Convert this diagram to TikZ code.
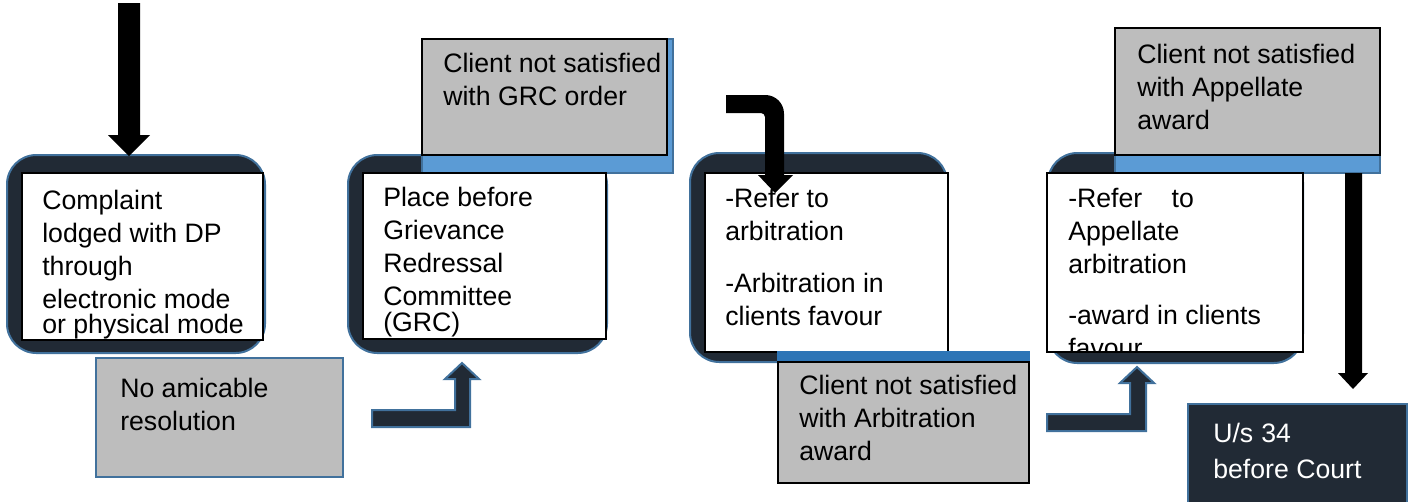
\documentclass[tikz,border=0pt]{standalone}
\usepackage{fontspec}
\setmainfont{Liberation Sans}
\usetikzlibrary{fit}
\definecolor{darkfill}{HTML}{212A35}
\definecolor{edgeblue}{HTML}{41719C}
\definecolor{bandlight}{HTML}{5B9BD5}
\definecolor{banddark}{HTML}{2E75B6}
\definecolor{boxgray}{HTML}{BDBDBD}
\tikzset{
  darkround/.style={fill=darkfill, draw=edgeblue, line width=1.5pt, rounded corners=22pt, inner sep=0pt},
  whitebox/.style={fill=white, draw=black, line width=0.8pt, inner sep=0pt},
  graybox/.style={fill=boxgray, draw=black, line width=0.8pt, inner sep=0pt},
  grayblue/.style={fill=boxgray, draw=edgeblue, line width=1.5pt, inner sep=0pt},
  bandlt/.style={fill=bandlight, draw=edgeblue, line width=1.2pt, inner sep=0pt},
  banddk/.style={fill=banddark, draw=banddark, line width=0.8pt, inner sep=0pt},
  courtbox/.style={fill=darkfill, draw=edgeblue, line width=2pt, inner sep=0pt},
  txt/.style={anchor=base west, align=left, inner sep=0pt, font=\fontsize{20}{24.75}\selectfont},
  blackarrow/.style={fill=black},
  darkarrow/.style={fill=darkfill, draw=edgeblue, line width=1.5pt},
}
\begin{document}
\begin{tikzpicture}[x=0.75pt, y=-0.75pt]
\useasboundingbox (0,0) rectangle (1414,501);
% ---- stage 1
\coordinate (r1a) at (7,155); \coordinate (r1b) at (265,353);
\node[darkround, fit=(r1a)(r1b)] (r1) {};
\coordinate (w1a) at (22,173); \coordinate (w1b) at (263,340);
\node[whitebox, fit=(w1a)(w1b)] (w1) {};
\node[txt] (t1) at (42,333) {Complaint\\lodged with DP\\through\\electronic mode\\[-6.5pt]or physical mode};
% ---- no amicable
\coordinate (g1a) at (96,358); \coordinate (g1b) at (343,477);
\node[grayblue, fit=(g1a)(g1b)] (g1) {};
\node[txt] (tg1) at (120,430) {No amicable\\resolution};
% ---- stage 2
\coordinate (r2a) at (348,155); \coordinate (r2b) at (607,353);
\node[darkround, fit=(r2a)(r2b)] (r2) {};
\coordinate (b2a) at (422,39); \coordinate (b2b) at (673,173);
\node[bandlt, fit=(b2a)(b2b)] (b2) {};
\coordinate (g2a) at (422,39); \coordinate (g2b) at (667,155);
\node[graybox, fit=(g2a)(g2b)] (g2) {};
\node[txt] (tg2) at (443,105) {Client not satisfied\\with GRC order};
\coordinate (w2a) at (363,173); \coordinate (w2b) at (606,339);
\node[whitebox, fit=(w2a)(w2b)] (w2) {};
\begin{scope}
\clip (363,173) rectangle (606,339);
\node[txt] (t2) at (383,331) {Place before\\Grievance\\Redressal\\Committee\\[-5.5pt](GRC)};
\end{scope}
% ---- stage 3
\coordinate (r3a) at (690,153); \coordinate (r3b) at (947,362);
\node[darkround, fit=(r3a)(r3b)] (r3) {};
\coordinate (w3a) at (705,173); \coordinate (w3b) at (948,352);
\node[whitebox, fit=(w3a)(w3b)] (w3) {};
\node[txt] (t3) at (725,325) {-Refer to\\arbitration\\[14pt]-Arbitration in\\clients favour};
\coordinate (b3a) at (778,352); \coordinate (b3b) at (1029,483);
\node[banddk, fit=(b3a)(b3b)] (b3) {};
\coordinate (g3a) at (778,362); \coordinate (g3b) at (1029,483);
\node[graybox, fit=(g3a)(g3b)] (g3) {};
\node[txt] (tg3) at (799,460) {Client not satisfied\\with Arbitration\\award};
% ---- stage 4
\coordinate (r4a) at (1048,153); \coordinate (r4b) at (1303,363);
\node[darkround, fit=(r4a)(r4b)] (r4) {};
\coordinate (b4a) at (1115,28); \coordinate (b4b) at (1380,173);
\node[bandlt, fit=(b4a)(b4b)] (b4) {};
\coordinate (g4a) at (1115,28); \coordinate (g4b) at (1380,155);
\node[graybox, fit=(g4a)(g4b)] (g4) {};
\node[txt] (tg4) at (1137,129) {Client not satisfied\\with Appellate\\award};
\coordinate (w4a) at (1047,173); \coordinate (w4b) at (1303,352);
\node[whitebox, fit=(w4a)(w4b)] (w4) {};
\begin{scope}
\clip (1047,173) rectangle (1303,352);
\node[txt] (t4) at (1068,357) {-Refer\hspace{22pt}to\\Appellate\\arbitration\\[13pt]-award in clients\\favour};
\end{scope}
% ---- court
\coordinate (ca) at (1188,404); \coordinate (cb) at (1407,510);
\node[courtbox, fit=(ca)(cb)] (court) {};
\node[txt, text=white] (tc) at (1213,478) {U/s\hspace{6pt}34\\[2pt]before Court};
% ---- arrows
\fill[blackarrow] (118,3) -- (140,3) -- (140,135) -- (150,135) -- (129,156) -- (108,135) -- (118,135) -- cycle;
\filldraw[darkarrow] (372,410) -- (455,410) -- (455,379) -- (445,379) -- (462,363) -- (479,379) -- (470,379) -- (470,427) -- (372,427) -- cycle;
\fill[blackarrow] (726,95) [rounded corners=14pt] -- (784,95) -- (784,140) [sharp corners] -- (784,175) -- (793,175) -- (775,193) -- (758,175) -- (765,175) [rounded corners=3pt] -- (765,113) [sharp corners] -- (726,113) -- cycle;
\filldraw[darkarrow] (1047,414) -- (1130,414) -- (1130,383) -- (1120,383) -- (1137,367) -- (1154,383) -- (1146,383) -- (1146,431) -- (1047,431) -- cycle;
\fill[blackarrow] (1345,173) -- (1362,173) -- (1362,373) -- (1368,373) -- (1353,389) -- (1338,373) -- (1345,373) -- cycle;
\end{tikzpicture}
\end{document}
